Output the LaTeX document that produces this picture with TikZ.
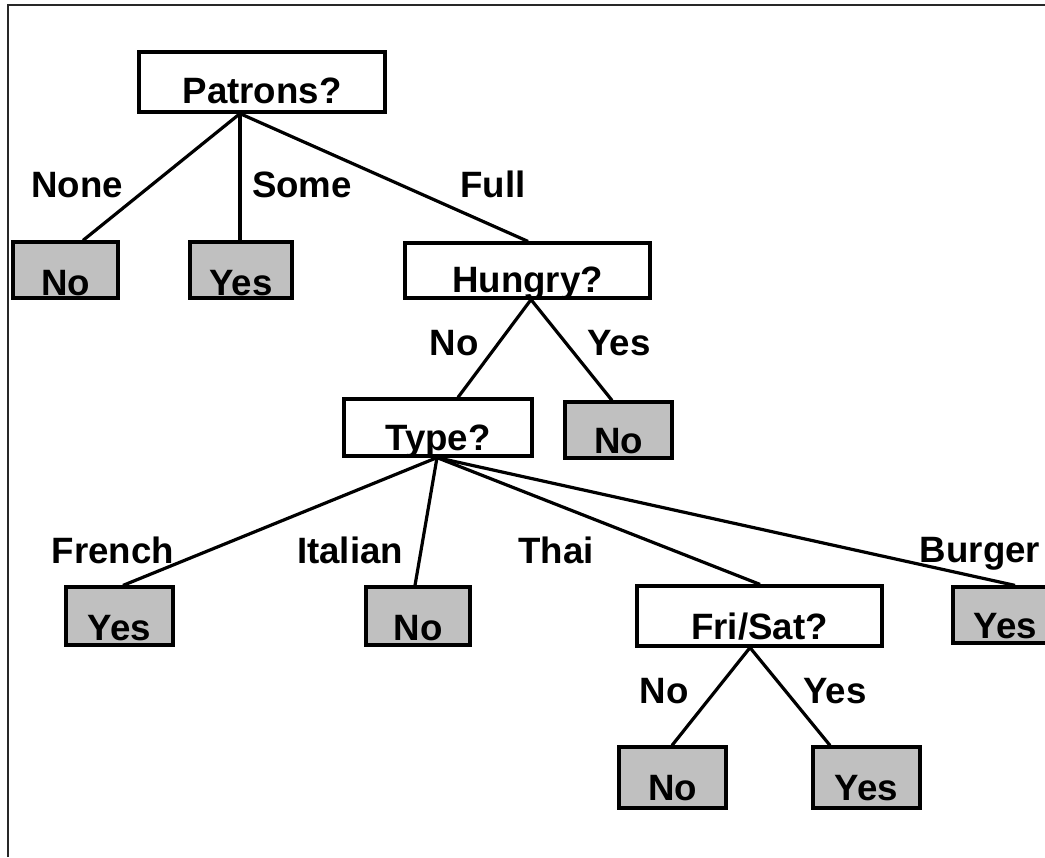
\documentclass[tikz,border=0pt]{standalone}
\usepackage{fontspec}
\setmainfont{Liberation Sans}
\definecolor{leafgray}{RGB}{192,192,192}
\definecolor{framegray}{RGB}{40,40,40}
\begin{document}
\begin{tikzpicture}[x=0.75pt,y=-0.75pt,
  txt/.style={font=\fontsize{27.5}{32}\selectfont\bfseries},
  nb/.style n args={3}{draw, line width=2.4pt, inner sep=0pt, txt,
    minimum width=#1pt, text height=#2pt, text depth=#3pt},
  dec/.style={fill=white},
  leaf/.style={fill=leafgray},
  edge/.style={line width=2.4pt},
  lab/.style={txt, anchor=base, inner sep=0pt}]
\useasboundingbox (0,0) rectangle (1045,857);
\draw[line width=1.9pt, framegray] (8,857) -- (8,5) -- (1045,5);

% decision and leaf nodes
\node[nb={184.5}{38.25}{6.75}, dec]  (pat) at (262,82)    {Patrons?};
\node[nb={78.75}{39.75}{2.25}, leaf] (l1)  at (65.5,270)  {No};
\node[nb={76.5}{39.75}{2.25}, leaf]  (l2)  at (241,270)   {Yes};
\node[nb={183.75}{36.75}{4.5}, dec]  (hun) at (527.5,270.5) {Hungry?};
\node[nb={141}{38.25}{4.5}, dec]     (typ) at (438,427.5) {Type?};
\node[nb={80.25}{38.25}{3.75}, leaf] (l3)  at (618.5,430) {No};
\node[nb={80.25}{39.75}{3.75}, leaf] (l4)  at (119.5,616) {Yes};
\node[nb={78}{39.75}{3.75}, leaf]    (l5)  at (418,616)   {No};
\node[nb={183.75}{39.75}{5.25}, dec] (fri) at (759.5,616) {Fri/Sat?};
\node[nb={78.75}{38.25}{3.75}, leaf] (l6)  at (1005.5,615) {Yes};
\node[nb={80.25}{39.75}{6}, leaf]    (l7)  at (672.5,777.5) {No};
\node[nb={80.25}{39.75}{6}, leaf]    (l8)  at (866.5,777.5) {Yes};

% attachment points
\path (pat.south) ++(-22,0) coordinate (patb);
\path (l1.north)  ++(17.5,0) coordinate (l1t);
\path (l2.north)  ++(-1,0) coordinate (l2t);
\path (hun.north) ++(0.5,0) coordinate (hunt);
\path (hun.south) ++(3.5,0) coordinate (hunb);
\path (typ.north) ++(20,0) coordinate (typt);
\path (l3.north)  ++(-6.5,0) coordinate (l3t);
\path (typ.south) ++(-1,0) coordinate (typb);
\path (l4.north)  ++(3.5,0) coordinate (l4t);
\path (l5.north)  ++(-3,0) coordinate (l5t);
\path (fri.north) ++(0.5,0) coordinate (frit);
\path (l6.north)  ++(9.5,0) coordinate (l6t);
\path (fri.south) ++(-9.5,0) coordinate (frib);
\path (l7.north)  ++(-0.5,0) coordinate (l7t);
\path (l8.north)  ++(-36.5,0) coordinate (l8t);

% connectors
\draw[edge] (patb) -- (l1t);
\draw[edge] (patb) -- (l2t);
\draw[edge] (patb) -- (hunt);
\draw[edge] (hunb) -- (typt);
\draw[edge] (hunb) -- (l3t);
\draw[edge] (typb) -- (l4t);
\draw[edge] (typb) -- (l5t);
\draw[edge] (typb) -- (frit);
\draw[edge] (typb) -- (l6t);
\draw[edge] (frib) -- (l7t);
\draw[edge] (frib) -- (l8t);

% branch labels
\node[lab] (tNone)   at (77,197)  {None};
\node[lab] (tSome)   at (302,197) {Some};
\node[lab] (tFull)   at (493,197) {Full};
\node[lab] (tHNo)    at (454,355) {No};
\node[lab] (tHYes)   at (619,355) {Yes};
\node[lab] (tFrench) at (113,563) {French};
\node[lab] (tItal)   at (350,563) {Italian};
\node[lab] (tThai)   at (556,563) {Thai};
\node[lab] (tBurg)   at (980,562) {Burger};
\node[lab] (tFNo)    at (664,703) {No};
\node[lab] (tFYes)   at (835,703) {Yes};
\end{tikzpicture}
\end{document}
